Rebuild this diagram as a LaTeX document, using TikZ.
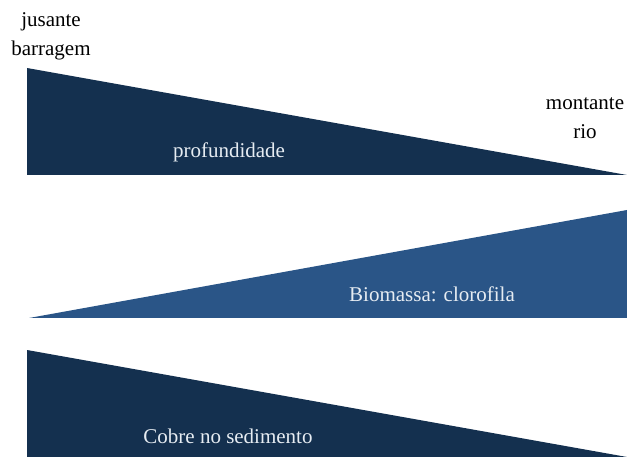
\documentclass[tikz,border=0pt]{standalone}
\usepackage{fontspec}
\setmainfont{Liberation Serif}
\usepackage{tikz}
\definecolor{navy}{HTML}{14304F}
\definecolor{midblue}{HTML}{2A5587}
\definecolor{paleword}{HTML}{E6ECF2}
\tikzset{
  wedge/.style={fill=#1, draw=none},
  endlabel/.style={align=center, text=black, font=\fontsize{21}{29}\selectfont, inner sep=0pt},
  barlabel/.style={text=paleword, font=\fontsize{21}{25}\selectfont, inner sep=0pt}
}

\begin{document}
\begin{tikzpicture}[x=1pt, y=-1pt]

  \useasboundingbox (0,0) rectangle (627,457);

  % Wedges
  \fill[wedge=navy]    (27,68)   -- (27,175) -- (627,175) -- cycle;
  \fill[wedge=midblue] (29,318)  -- (627,210) -- (627,318) -- cycle;
  \fill[wedge=navy]    (27,350)  -- (27,457) -- (627,457) -- cycle;

  % Nodes
  \node[endlabel] (jusante)  at (51,36)   {jusante\\barragem};
  \node[endlabel] (montante) at (585,118) {montante\\rio};
  \node[barlabel] (prof)     at (229,152) {profundidade};
  \node[barlabel] (bio)      at (432,294) {Biomassa: clorofila};
  \node[barlabel] (cobre)    at (228,436) {Cobre no sedimento};

\end{tikzpicture}
\end{document}
